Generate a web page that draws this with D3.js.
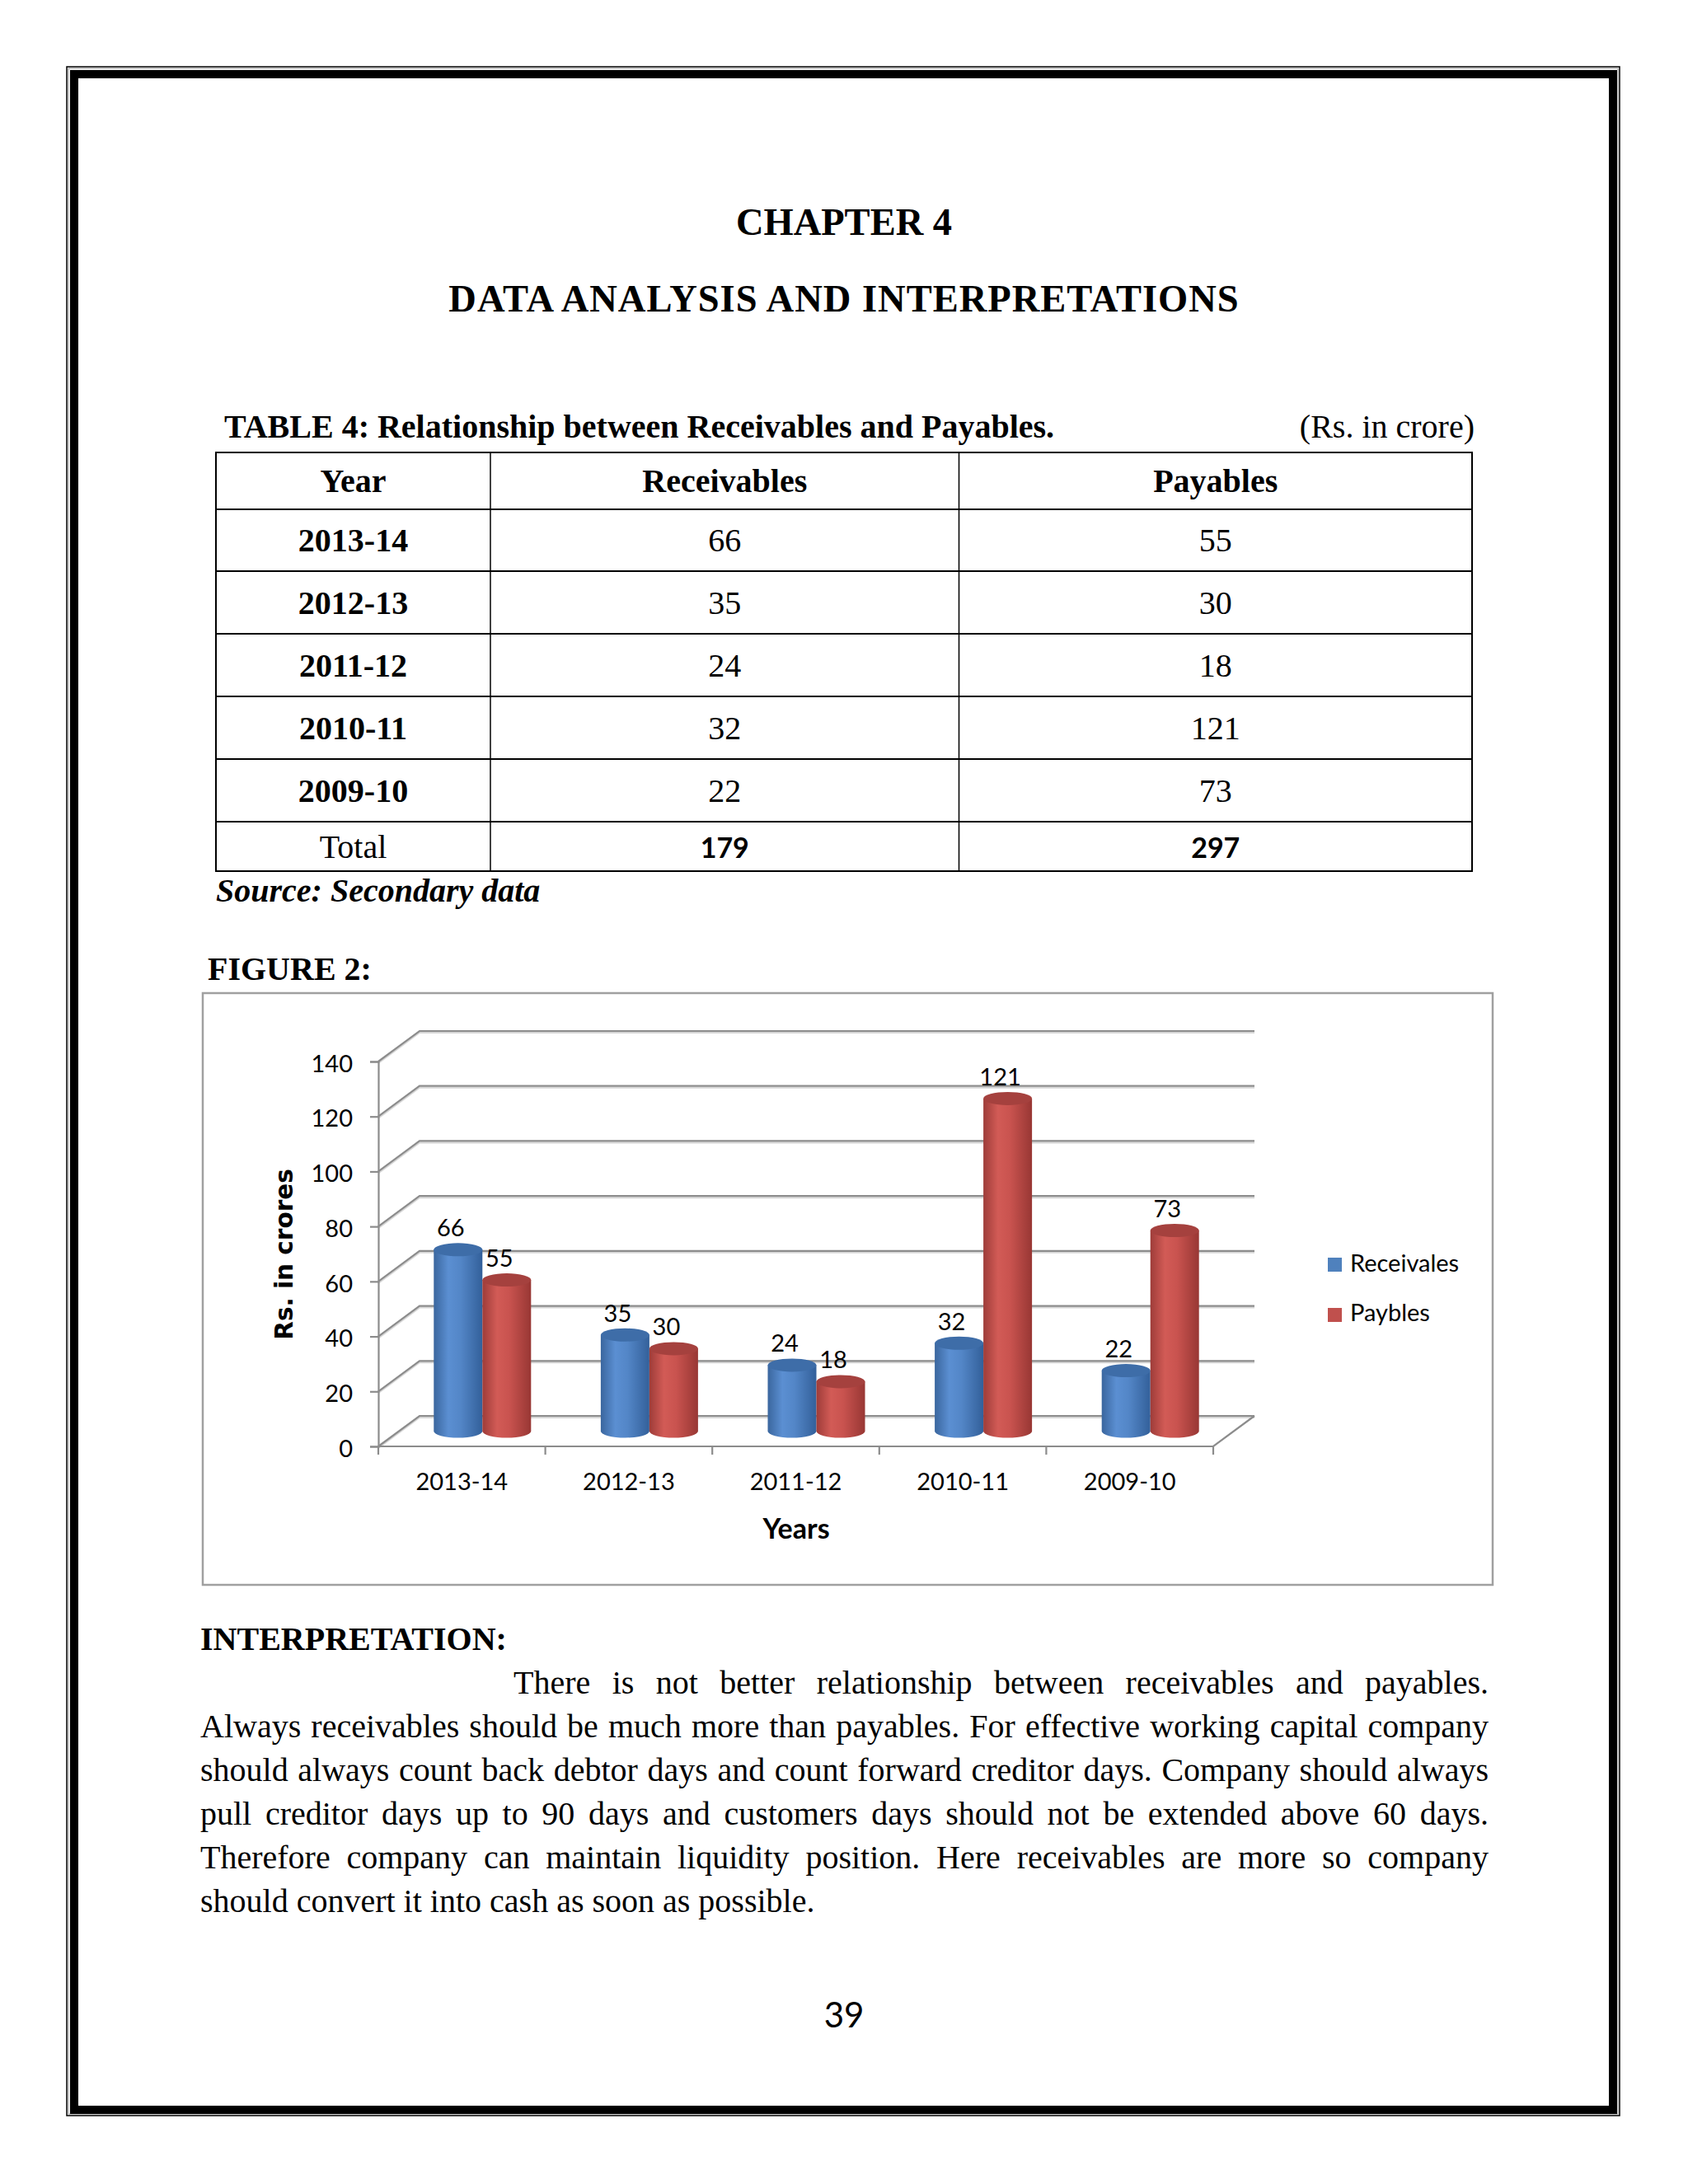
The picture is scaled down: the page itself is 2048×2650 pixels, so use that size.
<!DOCTYPE html>
<html>
<head>
<meta charset="utf-8">
<script src="https://cdn.jsdelivr.net/npm/d3@7"></script>
<style>
body { margin: 0; background: #fff; }
#page { position: relative; width: 2048px; height: 2650px; }
#para {
    position: absolute; left: 243px; top: 2015px; width: 1563px;
    font-family: "Liberation Serif", "Times New Roman", serif; font-size: 40px; line-height: 53px;
    color: #000;
}
#para div { text-align: justify; text-align-last: justify; white-space: nowrap; }
#para div.first { padding-left: 380px; }
#para div.last { text-align-last: left; }
</style>
</head>
<body>
<div id="page">
    <svg id="svg" width="2048" height="2650"></svg>
    <div id="para"></div>
</div>
<script>
// chart / table data
const years = ['2013-14', '2012-13', '2011-12', '2010-11', '2009-10'];
const receivables = [66, 35, 24, 32, 22];
const payables = [55, 30, 18, 121, 73];
const totals = [179, 297];
const tableHeader = ['Year', 'Receivables', 'Payables'];
const seriesNames = ['Receivales', 'Paybles'];
const yTicks = [0, 20, 40, 60, 80, 100, 120, 140];

// interpretation paragraph, line by line as in the original page
const paraLines = [
    'There is not better relationship between receivables and payables.',
    'Always receivables should be much more than payables. For effective working capital company',
    'should always count back debtor days and count forward creditor days. Company should always',
    'pull creditor days up to 90 days and customers days should not be extended above 60 days.',
    'Therefore company can maintain liquidity position. Here receivables are more so company',
    'should convert it into cash as soon as possible.'
];

const serif = '"Liberation Serif", "Times New Roman", serif';
const sans = 'Lato, "Open Sans", sans-serif';

const svg = d3.select('#svg');

// page border: thin outer line + thick black band
svg.append('rect').attr('x', 81).attr('y', 81).attr('width', 1884).attr('height', 2486)
    .attr('fill', 'none').attr('stroke', '#000').attr('stroke-width', 1.5);
svg.append('rect').attr('x', 83).attr('y', 83).attr('width', 1880).attr('height', 2482)
    .attr('fill', 'none').attr('stroke', '#999').attr('stroke-width', 1);
svg.append('rect').attr('x', 90).attr('y', 90).attr('width', 1867).attr('height', 2470)
    .attr('fill', 'none').attr('stroke', '#000').attr('stroke-width', 10);

// headings
svg.append('text').attr('x', 1024).attr('y', 285).attr('text-anchor', 'middle')
    .style('font', 'bold 46.5px ' + serif).text('CHAPTER 4');
svg.append('text').attr('x', 1024).attr('y', 378).attr('text-anchor', 'middle')
    .style('font', 'bold 46.5px ' + serif).style('letter-spacing', '1px')
    .text('DATA ANALYSIS AND INTERPRETATIONS');

// table caption
svg.append('text').attr('x', 272).attr('y', 531)
    .style('font', 'bold 40px ' + serif).text('TABLE 4: Relationship between Receivables and Payables.');
svg.append('text').attr('x', 1789).attr('y', 531).attr('text-anchor', 'end')
    .style('font', '40px ' + serif).text('(Rs. in crore)');

// table
const colEdges = [262, 595, 1163.5, 1786];
const rowEdges = [549, 618, 693, 769, 845, 921, 997, 1057];
const table = svg.append('g');
table.append('rect').attr('x', colEdges[0]).attr('y', rowEdges[0])
    .attr('width', colEdges[3] - colEdges[0]).attr('height', rowEdges[7] - rowEdges[0])
    .attr('fill', 'none').attr('stroke', '#000').attr('stroke-width', 2);
rowEdges.slice(1, -1).forEach(function(r) {
    table.append('line').attr('x1', colEdges[0]).attr('x2', colEdges[3]).attr('y1', r).attr('y2', r)
        .attr('stroke', '#000').attr('stroke-width', 2);
});
colEdges.slice(1, -1).forEach(function(c) {
    table.append('line').attr('x1', c).attr('x2', c).attr('y1', rowEdges[0]).attr('y2', rowEdges[7])
        .attr('stroke', '#000').attr('stroke-width', 1.5);
});
const colMid = function(i) { return (colEdges[i] + colEdges[i + 1]) / 2; };
const rowBase = function(i) { return (rowEdges[i] + rowEdges[i + 1]) / 2 + 13.5; };

const tableRows = [tableHeader.map(function(h) { return {t: h, f: 'bold 40px ' + serif}; })];
years.forEach(function(y, i) {
    tableRows.push([
        {t: y, f: 'bold 40px ' + serif},
        {t: receivables[i], f: '40px ' + serif},
        {t: payables[i], f: '40px ' + serif}
    ]);
});
tableRows.push([
    {t: 'Total', f: '40px ' + serif},
    {t: totals[0], f: 'bold 34px ' + sans},
    {t: totals[1], f: 'bold 34px ' + sans}
]);
tableRows.forEach(function(row, ri) {
    row.forEach(function(cell, ci) {
        table.append('text').attr('x', colMid(ci)).attr('y', rowBase(ri))
            .attr('text-anchor', 'middle').style('font', cell.f).text(cell.t);
    });
});

svg.append('text').attr('x', 262).attr('y', 1094)
    .style('font', 'italic bold 40px ' + serif).text('Source: Secondary data');
svg.append('text').attr('x', 252).attr('y', 1189)
    .style('font', 'bold 40px ' + serif).text('FIGURE 2:');

// ---- chart ----
const chart = svg.append('g');
chart.append('rect').attr('x', 246).attr('y', 1205).attr('width', 1565).attr('height', 718)
    .attr('fill', '#fff').attr('stroke', '#a0a0a0').attr('stroke-width', 2.5);

const DX = 50, DY = -37; // depth offset of back wall
const x = d3.scaleBand().domain(years).range([459, 1472]);
const y = d3.scaleLinear().domain([0, 140]).range([1755, 1288]);

// gradients for cylinders
const defs = svg.append('defs');
const grads = [
    {id: 'gBlue', stops: [[0, '#3a669e'], [0.3, '#5b8fd2'], [0.55, '#5386c7'], [1, '#33609a']]},
    {id: 'gRed', stops: [[0, '#9e3c39'], [0.3, '#d25b56'], [0.55, '#c9534f'], [1, '#983734']]}
];
grads.forEach(function(g) {
    const lg = defs.append('linearGradient').attr('id', g.id)
        .attr('x1', 0).attr('x2', 1).attr('y1', 0).attr('y2', 0);
    g.stops.forEach(function(s) {
        lg.append('stop').attr('offset', s[0]).attr('stop-color', s[1]);
    });
});

// gridlines: left wall diagonal + back wall
const grid = chart.append('g');
yTicks.forEach(function(t) {
    const yf = y(t), yb = y(t) + DY;
    grid.append('path')
        .attr('d', 'M' + (x.range()[0]) + ',' + (yf + 2) + 'L' + (x.range()[0] + DX) + ',' + (yb + 2) + 'L' + (x.range()[1] + DX) + ',' + (yb + 2))
        .attr('fill', 'none').attr('stroke', '#d6d6d6').attr('stroke-width', 2);
    grid.append('path')
        .attr('d', 'M' + (x.range()[0]) + ',' + yf + 'L' + (x.range()[0] + DX) + ',' + yb + 'L' + (x.range()[1] + DX) + ',' + yb)
        .attr('fill', 'none').attr('stroke', '#8c8c8c').attr('stroke-width', 2.2);
});

// floor right edge + front edge
grid.append('path')
    .attr('d', 'M' + x.range()[0] + ',' + y(0) + 'L' + x.range()[1] + ',' + y(0) + 'L' + (x.range()[1] + DX) + ',' + (y(0) + DY))
    .attr('fill', 'none').attr('stroke', '#8c8c8c').attr('stroke-width', 2.2);

// y axis
const yAxis = d3.axisLeft(y).tickValues(yTicks).tickSize(10).tickPadding(21);
const yg = chart.append('g').attr('transform', 'translate(' + x.range()[0] + ',0)').call(yAxis);
yg.select('.domain').attr('stroke', '#8c8c8c').attr('stroke-width', 2.2);
yg.selectAll('.tick line').attr('stroke', '#8c8c8c').attr('stroke-width', 2.2);
yg.selectAll('.tick text').style('font', '29px ' + sans).attr('fill', '#000').attr('dy', '0.42em');

// x axis: ticks at category boundaries
const xg = chart.append('g').attr('transform', 'translate(0,' + y(0) + ')')
    .call(d3.axisBottom(x).tickSize(0).tickPadding(32));
xg.select('.domain').remove();
xg.selectAll('.tick text').style('font', '29px ' + sans).attr('fill', '#000');
years.concat([null]).forEach(function(c) {
    const bx = c === null ? x.range()[1] : x(c);
    xg.append('line').attr('x1', bx).attr('x2', bx).attr('y1', 0).attr('y2', 10)
        .attr('stroke', '#8c8c8c').attr('stroke-width', 2.2);
});

// axis titles
chart.append('text').attr('x', 966).attr('y', 1867).attr('text-anchor', 'middle')
    .style('font', 'bold 34px ' + sans).text('Years');
chart.append('text').attr('transform', 'translate(355,1522) rotate(-90)').attr('text-anchor', 'middle')
    .style('font', 'bold 29.5px "DejaVu Sans", sans-serif').text('Rs. in crores');

// cylinders
const barW = 59, ry = 8;
const series = [
    {name: seriesNames[0], values: receivables, grad: 'gBlue', top: '#3e6da8', side: -1},
    {name: seriesNames[1], values: payables, grad: 'gRed', top: '#a5413e', side: 0}
];
const bars = chart.append('g');
series.forEach(function(s) {
    s.values.forEach(function(v, i) {
        const cx = x(years[i]) + x.bandwidth() / 2 + DX / 2;
        const x0 = cx + s.side * barW, x1 = x0 + barW, rx = barW / 2;
        const yTop = y(v) + DY / 2, yBot = y(0) + DY / 2;
        bars.append('path')
            .attr('d', 'M' + x0 + ',' + yTop + 'L' + x0 + ',' + yBot +
                'A' + rx + ',' + ry + ' 0 0 0 ' + x1 + ',' + yBot + 'L' + x1 + ',' + yTop + 'Z')
            .attr('fill', 'url(#' + s.grad + ')');
        bars.append('ellipse').attr('cx', x0 + rx).attr('cy', yTop).attr('rx', rx).attr('ry', ry)
            .attr('fill', s.top);
        bars.append('text').attr('x', x0 + rx - 9).attr('y', yTop - ry - 8)
            .attr('text-anchor', 'middle').style('font', '29px ' + sans).text(v);
    });
});

// legend
const legend = chart.append('g');
[['#4f81bd', 1526, 1543], ['#c0504d', 1587, 1603]].forEach(function(l, i) {
    legend.append('rect').attr('x', 1611).attr('y', l[1]).attr('width', 17).attr('height', 17).attr('fill', l[0]);
    legend.append('text').attr('x', 1638).attr('y', l[2]).style('font', '29px ' + sans).text(seriesNames[i]);
});

// interpretation
svg.append('text').attr('x', 243).attr('y', 2002)
    .style('font', 'bold 40px ' + serif).text('INTERPRETATION:');
d3.select('#para').selectAll('div').data(paraLines).enter().append('div')
    .attr('class', function(d, i) { return i === 0 ? 'first' : (i === paraLines.length - 1 ? 'last' : null); })
    .text(function(d) { return d; });

// page number
svg.append('text').attr('x', 1024).attr('y', 2460).attr('text-anchor', 'middle')
    .style('font', '42px ' + sans).text('39');
</script>
</body>
</html>
